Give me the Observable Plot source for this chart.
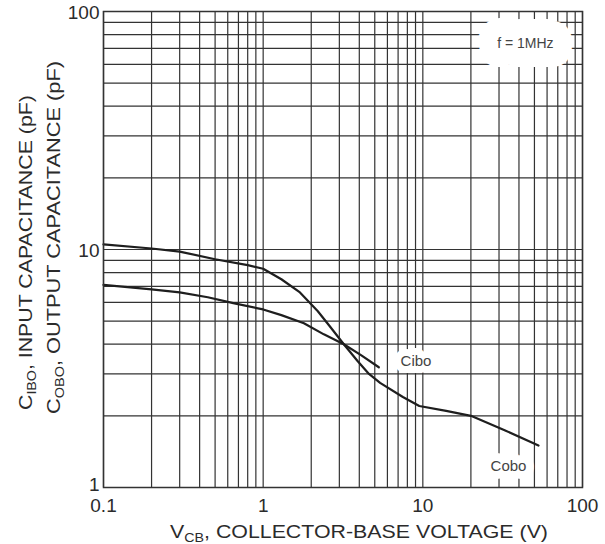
<!DOCTYPE html>
<html><head><meta charset="utf-8">
<script src="https://cdn.jsdelivr.net/npm/d3@7"></script>
<script src="https://cdn.jsdelivr.net/npm/@observablehq/plot@0.6"></script>
<style>body{margin:0;background:#fff}</style>
</head><body><div id="chart"></div>
<script>
// Cobo (output capacitance) vs VCB
const coboVolts = [0.1, 0.2, 0.3, 0.5, 0.8, 1.0, 1.3, 1.7, 2.2, 2.65, 3.2, 3.9, 4.6, 5.4, 7.5, 9.5, 14, 20, 32, 53];
const coboCap   = [10.5, 10.1, 9.8, 9.1, 8.6, 8.3, 7.5, 6.6, 5.5, 4.7, 4.0, 3.4, 3.0, 2.75, 2.4, 2.2, 2.1, 2.0, 1.75, 1.5];
// Cibo (input capacitance)
const ciboVolts = [0.1, 0.2, 0.3, 0.45, 0.65, 1.0, 1.3, 1.8, 2.4, 3.2, 4.1, 5.3];
const ciboCap   = [7.1, 6.8, 6.6, 6.3, 5.95, 5.6, 5.3, 4.9, 4.4, 4.0, 3.6, 3.2];

const xGrid = [0.1,0.2,0.3,0.4,0.5,0.6,0.7,0.8,0.9,1,2,3,4,5,6,7,8,9,10,20,30,40,50,60,70,80,90,100];
const yGrid = [1,2,3,4,5,6,7,8,9,10,20,30,40,50,60,70,80,90,100];
const xTicks = [0.1, 1, 10, 100];
const xTickLabels = ["0.1", "1", "10", "100"];
const yTicks = [1, 10, 100];
const yTickLabels = ["1", "10", "100"];

const noteText  = ["f = 1MHz", "Cibo", "Cobo"];
const noteVolts = [43.9, 9.06, 34.4];
const noteCap   = [73.4, 3.38, 1.225];
const noteSize  = [14, 15, 15];
const noteHalo  = [38, 14, 16];

const coboData = coboVolts.map((v, i) => ({v, c: coboCap[i]}));
const ciboData = ciboVolts.map((v, i) => ({v, c: ciboCap[i]}));
const notes = noteText.map((t, i) => ({t, v: noteVolts[i], c: noteCap[i], s: noteSize[i], h: noteHalo[i]}));

const font = "'Liberation Sans', Arial, Helvetica, sans-serif";
const ink = "#2b2b2b";
const yFmt = d => yTickLabels[yTicks.indexOf(d)];

const plot = Plot.plot({
  width: 605, height: 544,
  marginLeft: 103, marginRight: 23, marginTop: 11, marginBottom: 57,
  style: {fontFamily: font, background: "#fff", color: ink},
  x: {type: "log", domain: [0.1, 100]},
  y: {type: "log", domain: [1, 100]},
  marks: [
    Plot.ruleX(xGrid, {stroke: "#333", strokeWidth: 1.2}),
    Plot.ruleY(yGrid, {stroke: "#333", strokeWidth: 1.2}),
    ...notes.map(n => Plot.text([n], {x: "v", y: "c", text: "t", fontSize: n.s, fill: "#444",
      stroke: "#fff", strokeWidth: n.h, strokeLinejoin: "round"})),
    Plot.line(coboData, {x: "v", y: "c", stroke: "#1e1e1e", strokeWidth: 2.2}),
    Plot.line(ciboData, {x: "v", y: "c", stroke: "#1e1e1e", strokeWidth: 2.2}),
    Plot.frame({stroke: "#333", strokeWidth: 1.5}),
    Plot.axisX(xTicks, {tickSize: 0, tickPadding: 11, fontSize: 19, label: null,
      tickFormat: d => xTickLabels[xTicks.indexOf(d)]}),
    Plot.axisY(yTicks.filter(d => d === 1), {tickSize: 0, tickPadding: 4, fontSize: 19, label: null, dy: -3,
      tickFormat: yFmt}),
    Plot.axisY(yTicks.filter(d => d !== 1), {tickSize: 0, tickPadding: 4, fontSize: 19, label: null, dy: 1,
      tickFormat: yFmt})
  ]
});

const svg = d3.select(plot);
function title(parts, x, y, rot, len) {
  const t = svg.append("text")
    .attr("transform", `translate(${x},${y}) rotate(${rot})`)
    .attr("text-anchor", "start")
    .attr("font-family", font).attr("font-size", 18).attr("fill", ink)
    .attr("textLength", len).attr("lengthAdjust", "spacingAndGlyphs");
  t.append("tspan").text(parts[0]);
  t.append("tspan").attr("dy", 4).attr("font-size", 12).text(parts[1]);
  t.append("tspan").attr("dy", -4).text(parts[2]);
}
title(["V", "CB", ", COLLECTOR-BASE VOLTAGE (V)"], 170, 538, 0, 378);
title(["C", "IBO", ", INPUT CAPACITANCE (pF)"], 32, 410, -90, 315);
title(["C", "OBO", ", OUTPUT CAPACITANCE (pF)"], 60, 414, -90, 353);

document.getElementById("chart").appendChild(plot);
</script>
</body></html>
